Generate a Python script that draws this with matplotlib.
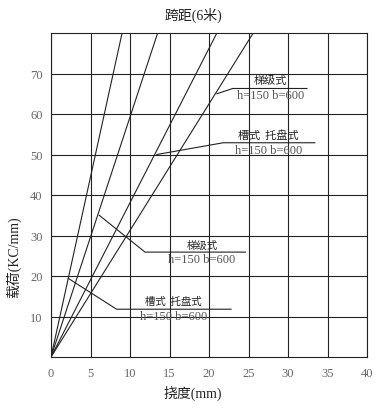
import matplotlib
matplotlib.use("Agg")
import matplotlib.pyplot as plt

plt.rcParams['font.family'] = ['Noto Sans CJK SC', 'DejaVu Sans']

# Data: each line starts at origin and reaches load 80 at given deflection
line_deflection_end = [9.0, 13.5, 21.0, 25.6]   # mm at load 80
line_load_end = [80, 80, 80, 80]

x_ticks = [0, 5, 10, 15, 20, 25, 30, 35, 40]
y_ticks = [10, 20, 30, 40, 50, 60, 70]

# annotations
ann_titles = ["梯级式", "槽式  托盘式", "梯级式", "槽式  托盘式"]
ann_sub = ["h=150 b=600"] * 4
ann_leader_x = [[21.0, 23.0, 32.4], [13.4, 21.8, 33.4], [6.1, 11.9, 24.6], [2.2, 8.3, 22.8]]
ann_leader_y = [[65.0, 66.3, 66.3], [50.0, 52.9, 52.9], [35.0, 25.9, 25.9], [19.4, 11.8, 11.8]]
ann_text_x = [27.8, 27.5, 19.1, 15.5]
ann_text_y1 = [68.6, 55.0, 27.8, 13.9]
ann_text_y2 = [64.6, 51.0, 24.2, 10.0]
ann_size = [8, 8, 7.5, 7.5]

fig = plt.figure(figsize=(3.86, 4.10), dpi=100)
ax = fig.add_axes([51/386, 1-358/410, (367-51)/386, (358-34)/410])

for xe, ye in zip(line_deflection_end, line_load_end):
    ax.plot([0, xe], [0, ye], color='#222222', lw=0.8)

for lx, ly in zip(ann_leader_x, ann_leader_y):
    ax.plot(lx, ly, color='#222222', lw=0.8)

for t1, t2, tx, y1, y2, fs in zip(ann_titles, ann_sub, ann_text_x, ann_text_y1, ann_text_y2, ann_size):
    ax.text(tx, y1, t1, ha='center', va='center', fontsize=fs, color='#222222')
    ax.text(tx, y2, t2, ha='center', va='center', fontsize=9, color='#555555',
            family=['Liberation Serif'])

ax.set_xlim(0, 40)
ax.set_ylim(0, 80)
ax.set_xticks(x_ticks)
ax.set_yticks(y_ticks)
ax.grid(True, color='#222222', lw=0.8)
ax.set_axisbelow(True)
ax.tick_params(axis='y', length=0, pad=6, labelsize=9, colors='#666666')
ax.tick_params(axis='x', length=0, pad=7, labelsize=9, colors='#666666')
for lab in ax.get_xticklabels() + ax.get_yticklabels():
    lab.set_family(['Liberation Serif'])
for s in ax.spines.values():
    s.set_color('#222222')
    s.set_linewidth(0.8)

lab_fam = ['Liberation Serif', 'Noto Sans CJK SC']
fig.text(193/386, 1-15/410, "跨距(6米)", ha='center', va='center', fontsize=10, family=lab_fam, color='#222222')
fig.text(193/386, 1-393/410, "挠度(mm)", ha='center', va='center', fontsize=10, family=lab_fam, color='#222222')
fig.text(14/386, 1-257/410, "载荷(KC/mm)", ha='center', va='center', fontsize=10, rotation=90,
         family=lab_fam, color='#222222')

fig.savefig("out.png", dpi=100, facecolor='white')
